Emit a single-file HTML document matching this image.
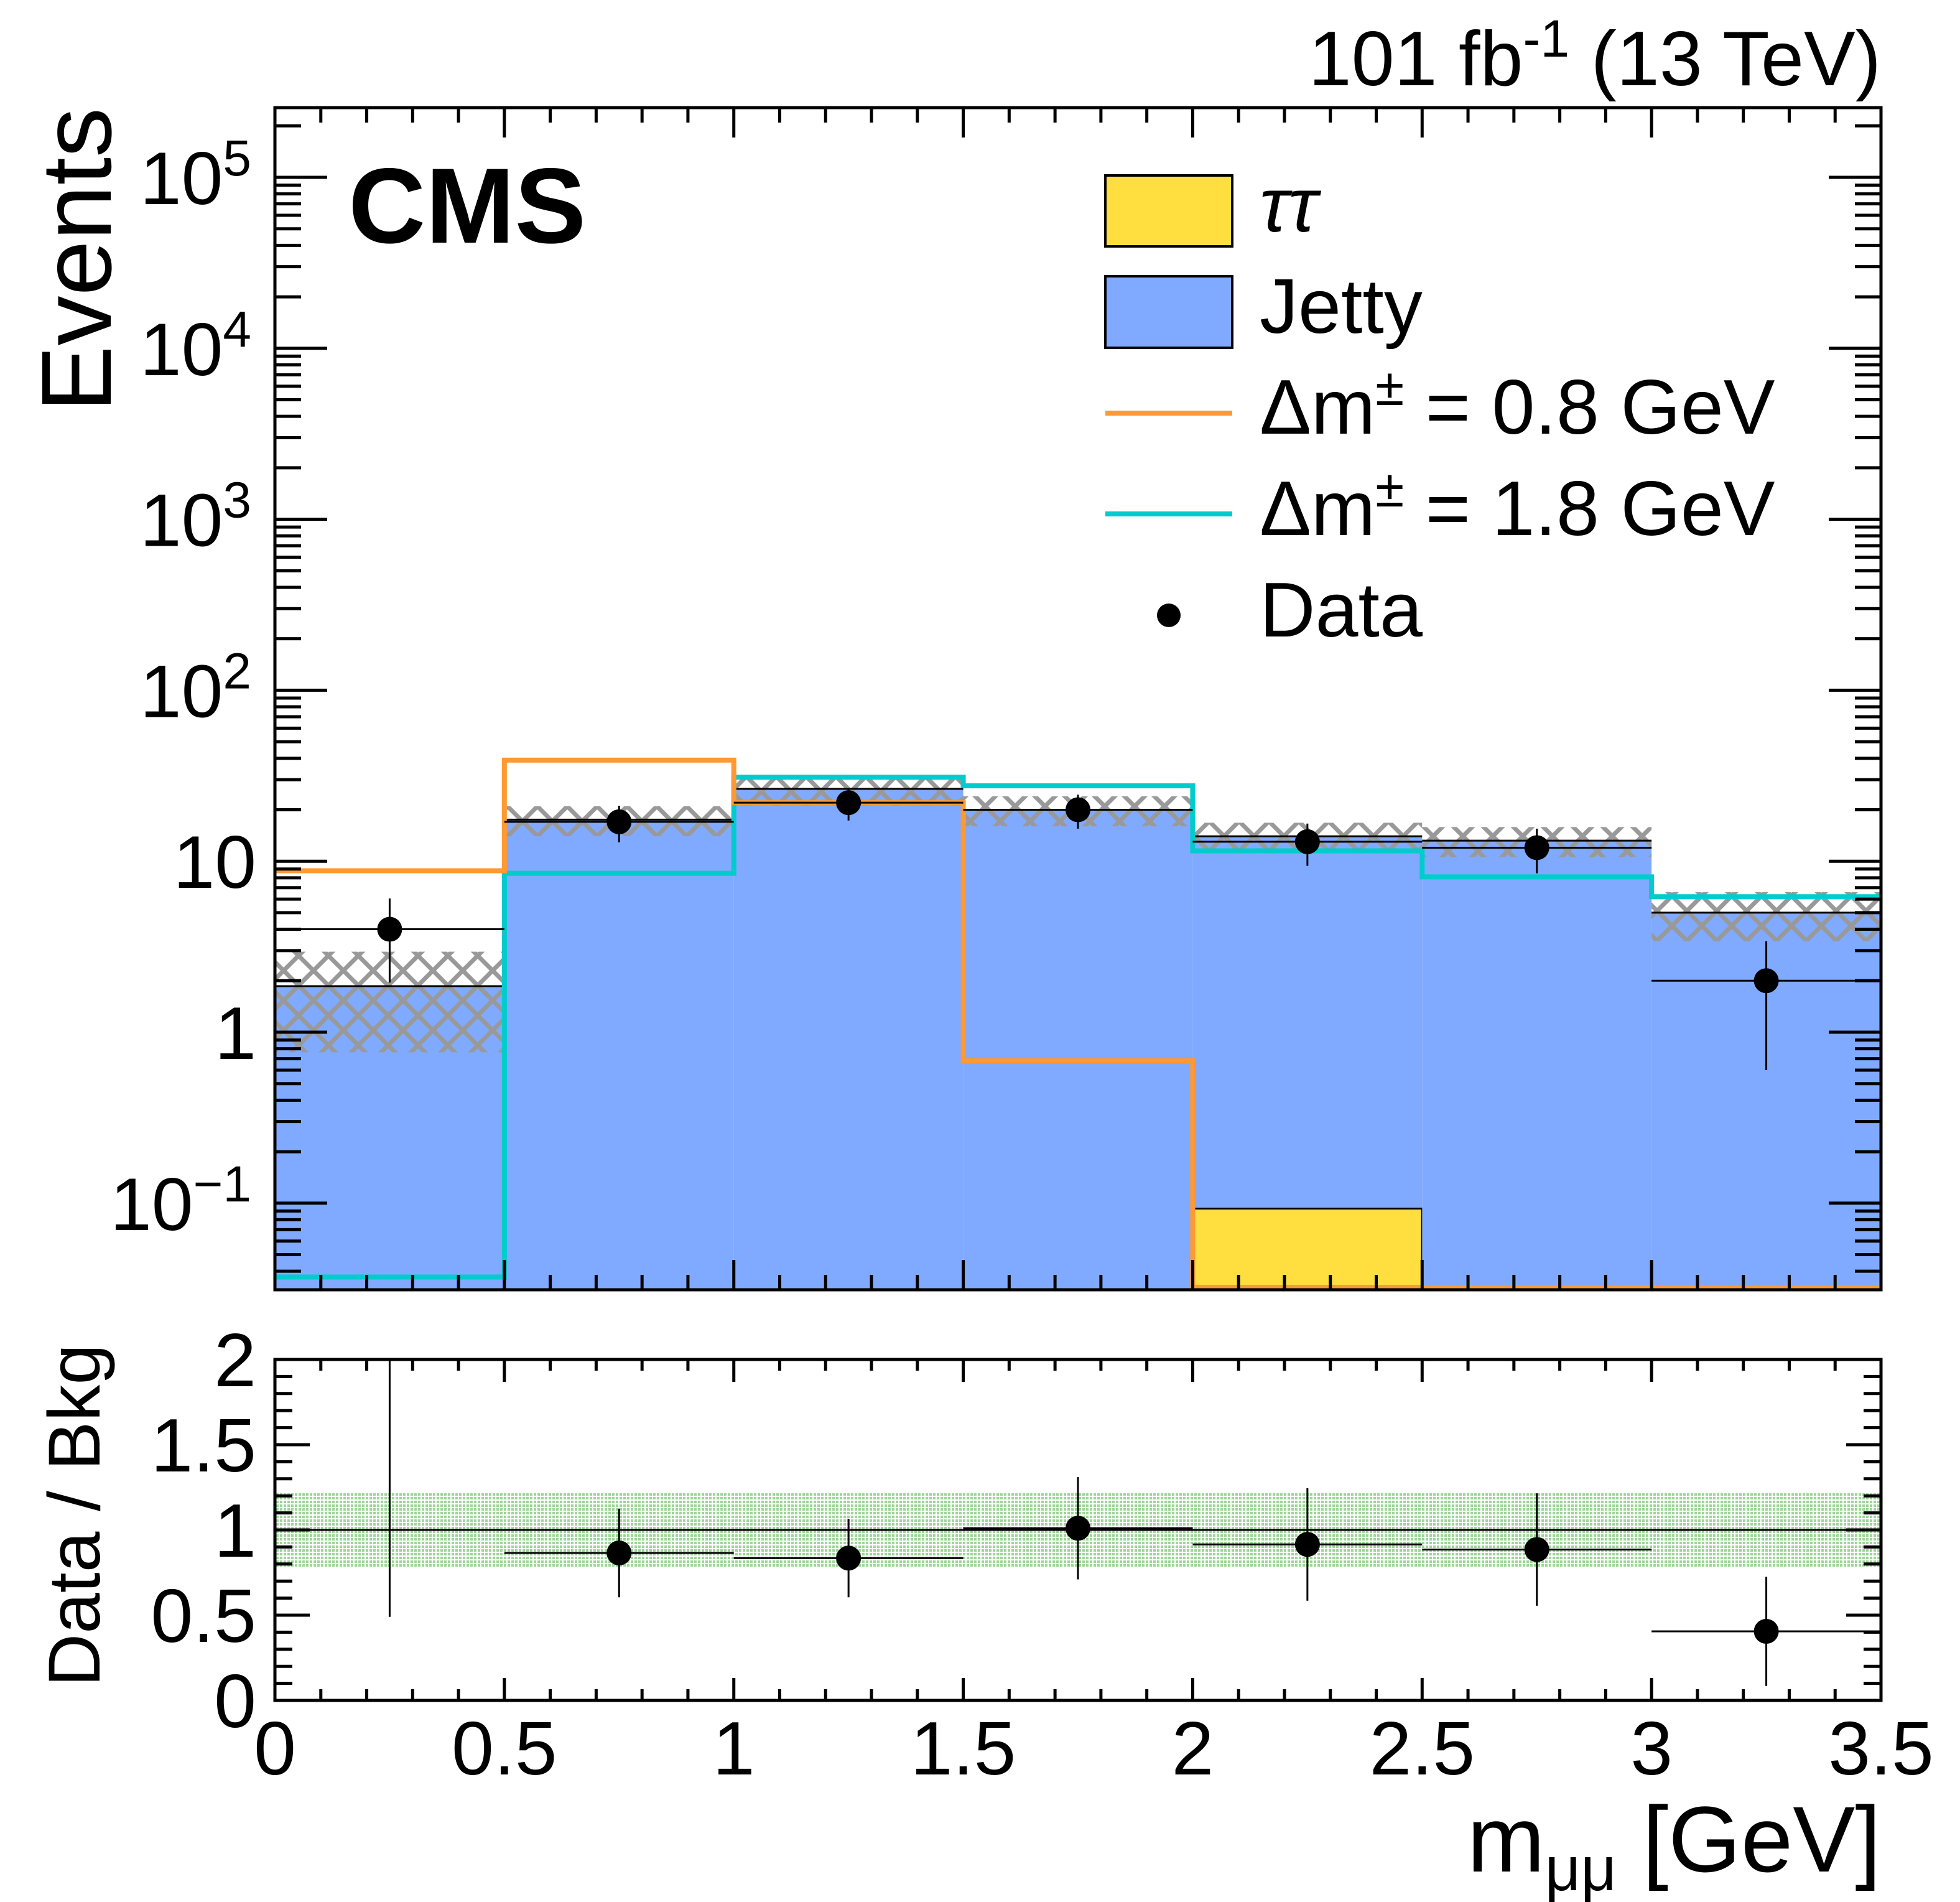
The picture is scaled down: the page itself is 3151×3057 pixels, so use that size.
<!DOCTYPE html>
<html><head><meta charset="utf-8"><style>
html,body{margin:0;padding:0;background:#fff;}
svg{display:block;}
text{font-family:"Liberation Sans",sans-serif;fill:#000;}
</style></head><body>
<svg id="chart" xmlns="http://www.w3.org/2000/svg" width="3151" height="3057" viewBox="0 0 3151 3057">
<defs>
<pattern id="hatch" patternUnits="userSpaceOnUse" width="48" height="48">
<path d="M0,0 L48,48 M48,0 L0,48" stroke="#999999" stroke-width="7"/>
</pattern>
<pattern id="dots" patternUnits="userSpaceOnUse" width="6" height="6">
<rect width="6" height="6" fill="#ffffff"/>
<rect width="4" height="4" fill="#9fd49a"/>
</pattern>
<clipPath id="clipTop"><rect x="442" y="173" width="2582" height="1900"/></clipPath>
<clipPath id="clipBot"><rect x="442" y="2185" width="2582" height="548"/></clipPath>
</defs>
<g id="top-layer" clip-path="url(#clipTop)"></g>
<g id="bot-layer" clip-path="url(#clipBot)"></g>
<g id="axes-layer"></g>

<text x="3024" y="137" text-anchor="end" font-size="124">101 fb<tspan font-size="84" dy="-46">-1</tspan><tspan dy="46"> (13 TeV)</tspan></text>
<text x="560" y="390" font-size="172" font-weight="bold">CMS</text>
<text transform="translate(178,173) rotate(-90)" text-anchor="end" font-size="160">Events</text>
<text transform="translate(160,2160) rotate(-90)" text-anchor="end" font-size="118">Data / Bkg</text>
<text x="3024" y="3008" text-anchor="end" font-size="150">m<tspan font-size="100" dy="30">μμ</tspan><tspan dy="-30"> [GeV]</tspan></text>

<g>
<rect x="1777" y="282" width="204" height="114" fill="#ffdf40" stroke="#000" stroke-width="4"/>
<text x="2025" y="372" font-size="124" font-family="Liberation Serif" font-style="italic">ττ</text>
<rect x="1777" y="444" width="204" height="115" fill="#80aaff" stroke="#000" stroke-width="4"/>
<text x="2025" y="535" font-size="124">Jetty</text>
<line x1="1777" y1="664" x2="1981" y2="664" stroke="#ff9933" stroke-width="8"/>
<text x="2025" y="697" font-size="124">Δm<tspan font-size="84" dy="-46">±</tspan><tspan dy="46"> = 0.8 GeV</tspan></text>
<line x1="1777" y1="826" x2="1981" y2="826" stroke="#00cccc" stroke-width="8"/>
<text x="2025" y="860" font-size="124">Δm<tspan font-size="84" dy="-46">±</tspan><tspan dy="46"> = 1.8 GeV</tspan></text>
<circle cx="1879" cy="989" r="19" fill="#000"/>
<text x="2025" y="1023" font-size="124">Data</text>
</g>
</svg>
<script>
const binEdges = [0, 0.5, 1.0, 1.5, 2.0, 2.5, 3.0, 3.5];
const jetty = [1.86, 17.5, 26.5, 20, 13.9, 13.2, 5.0];
const tautau = [0, 0, 0, 0, 0.093, 0, 0];
const bkgRelUnc = [0.59, 0.2, 0.2, 0.2, 0.2, 0.2, 0.32];
const sigDm08 = [8.8, 39, 22, 0.68, 0, 0, 0];
const sigDm18 = [0.037, 8.5, 31, 27.6, 11.5, 8.1, 6.2];
const dataVals = [4, 17, 22, 20, 13, 12, 2];
const dataErr = [2.05, 4.1, 4.7, 4.5, 3.6, 3.5, 1.4];
const ratioVals = [2.15, 0.865, 0.835, 1.01, 0.915, 0.885, 0.405];
const ratioErr = [1.66, 0.26, 0.23, 0.30, 0.33, 0.33, 0.32];
const ratioBand = [0.784, 1.216];
const xTickLabels = ["0", "0.5", "1", "1.5", "2", "2.5", "3", "3.5"];
const yLogExps = [-1, 0, 1, 2, 3, 4, 5];
const ratioTickLabels = ["0", "0.5", "1", "1.5", "2"];

(function () {
const NS = "http://www.w3.org/2000/svg";
const L = 442, R = 3024, T1 = 173, B1 = 2073, T2 = 2185, B2 = 2733;
const X = v => L + (v - 0) / 3.5 * (R - L);
const Y = v => { const lv = v > 0 ? Math.log10(v) : -3; return 285 + (5 - lv) * 274.8; };
const YR = v => B2 - v / 2 * (B2 - T2);
function mk(tag, attrs, parent) {
  const e = document.createElementNS(NS, tag);
  for (const k in attrs) e.setAttribute(k, attrs[k]);
  parent.appendChild(e);
  return e;
}
const topL = document.getElementById('top-layer');
const botL = document.getElementById('bot-layer');
const ax = document.getElementById('axes-layer');
const n = jetty.length;

for (let i = 0; i < n; i++) {
  const x0 = X(binEdges[i]), x1 = X(binEdges[i + 1]);
  const tot = jetty[i] + tautau[i];
  const r = mk('rect', {x: x0, y: Y(tot), width: x1 - x0, height: Math.max(0, B1 + 10 - Y(tot)), fill: '#80aaff'}, topL);
  
  
  if (tautau[i] > 0) {
    const t = mk('rect', {x: x0, y: Y(tautau[i]), width: x1 - x0, height: B1 + 10 - Y(tautau[i]), fill: '#ffdf40'}, topL);
    
    
    const tl = mk('path', {d: 'M' + x0 + ',' + B1 + ' L' + x0 + ',' + Y(tautau[i]) + ' L' + x1 + ',' + Y(tautau[i]) + ' L' + x1 + ',' + B1, fill: 'none', stroke: '#000', 'stroke-width': 3}, topL);
    
    
  }
}
for (let i = 0; i < n; i++) {
  const x0 = X(binEdges[i]), x1 = X(binEdges[i + 1]);
  const tot = jetty[i] + tautau[i];
  const yU = Y(tot * (1 + bkgRelUnc[i])), yD = Y(tot * (1 - bkgRelUnc[i]));
  const h = mk('rect', {x: x0, y: yU, width: x1 - x0, height: yD - yU, fill: 'url(#hatch)'}, topL);
  
  
}
for (let i = 0; i < n; i++) {
  const x0 = X(binEdges[i]), x1 = X(binEdges[i + 1]);
  const tot = jetty[i] + tautau[i];
  const o = mk('line', {x1: x0, y1: Y(tot), x2: x1, y2: Y(tot), stroke: '#000', 'stroke-width': 3}, topL);
  
  
}
function stepPath(vals) {
  let d = '';
  for (let i = 0; i < vals.length; i++) {
    const y = Math.min(Y(vals[i]), B1 - 4);
    d += (i === 0 ? 'M' : 'L') + X(binEdges[i]) + ',' + y + ' L' + X(binEdges[i + 1]) + ',' + y + ' ';
  }
  return d;
}
const s1 = mk('path', {d: stepPath(sigDm18), fill: 'none', stroke: '#00cccc', 'stroke-width': 8}, topL);


const s0 = mk('path', {d: stepPath(sigDm08), fill: 'none', stroke: '#ff9933', 'stroke-width': 8}, topL);


for (let i = 0; i < n; i++) {
  const xc = X((binEdges[i] + binEdges[i + 1]) / 2);
  const g = mk('g', {}, topL);
  
  
  mk('line', {x1: X(binEdges[i]), y1: Y(dataVals[i]), x2: X(binEdges[i + 1]), y2: Y(dataVals[i]), stroke: '#000', 'stroke-width': 3}, g);
  mk('line', {x1: xc, y1: Y(dataVals[i] + dataErr[i]), x2: xc, y2: Y(Math.max(dataVals[i] - dataErr[i], 1e-3)), stroke: '#000', 'stroke-width': 3}, g);
  mk('circle', {cx: xc, cy: Y(dataVals[i]), r: 20, fill: '#000'}, g);
}
const band = mk('rect', {x: L, y: YR(ratioBand[1]), width: R - L, height: YR(ratioBand[0]) - YR(ratioBand[1]), fill: 'url(#dots)'}, botL);


const ref = mk('line', {x1: L, y1: YR(1), x2: R, y2: YR(1), stroke: '#000', 'stroke-width': 3}, botL);


for (let i = 0; i < n; i++) {
  const xc = X((binEdges[i] + binEdges[i + 1]) / 2);
  const g = mk('g', {}, botL);
  
  
  mk('line', {x1: X(binEdges[i]), y1: YR(ratioVals[i]), x2: X(binEdges[i + 1]), y2: YR(ratioVals[i]), stroke: '#000', 'stroke-width': 3}, g);
  mk('line', {x1: xc, y1: YR(ratioVals[i] + ratioErr[i]), x2: xc, y2: YR(ratioVals[i] - ratioErr[i]), stroke: '#000', 'stroke-width': 3}, g);
  mk('circle', {cx: xc, cy: YR(ratioVals[i]), r: 20, fill: '#000'}, g);
}
const f1 = mk('rect', {x: L, y: T1, width: R - L, height: B1 - T1, fill: 'none', stroke: '#000', 'stroke-width': 5}, ax);


const f2 = mk('rect', {x: L, y: T2, width: R - L, height: B2 - T2, fill: 'none', stroke: '#000', 'stroke-width': 5}, ax);


const tk = mk('g', {stroke: '#000', 'stroke-width': 5}, ax);


for (let k = 0; k <= 35; k++) {
  const x = X(k / 10), major = k % 5 === 0;
  const l1 = major ? 48 : 24, l2 = major ? 36 : 18;
  mk('line', {x1: x, y1: T1, x2: x, y2: T1 + l1}, tk);
  mk('line', {x1: x, y1: B1, x2: x, y2: B1 - l1}, tk);
  mk('line', {x1: x, y1: T2, x2: x, y2: T2 + l2}, tk);
  mk('line', {x1: x, y1: B2, x2: x, y2: B2 - l2}, tk);
}
for (let e = -2; e <= 5; e++) {
  for (let m = 1; m <= 9; m++) {
    const v = m * Math.pow(10, e), y = Y(v);
    if (y < T1 || y > B1) continue;
    const len = m === 1 ? 84 : 42;
    mk('line', {x1: L, y1: y, x2: L + len, y2: y}, tk);
    mk('line', {x1: R, y1: y, x2: R - len, y2: y}, tk);
  }
}
for (let k = 0; k <= 20; k++) {
  const y = YR(k / 10), len = k % 5 === 0 ? 56 : 28;
  mk('line', {x1: L, y1: y, x2: L + len, y2: y}, tk);
  mk('line', {x1: R, y1: y, x2: R - len, y2: y}, tk);
}
xTickLabels.forEach((s, i) => {
  const t = mk('text', {x: X(i * 0.5), y: 2852, 'text-anchor': 'middle', 'font-size': 122}, ax);
  t.textContent = s;
  
  
});
yLogExps.forEach(e => {
  const y = Y(Math.pow(10, e)) + 43;
  const t = mk('text', {x: 412, y: y, 'text-anchor': 'end', 'font-size': 120}, ax);
  if (e === 0) t.textContent = '1';
  else if (e === 1) t.textContent = '10';
  else {
    t.setAttribute('x', 404);
    t.textContent = '10';
    const sp = document.createElementNS(NS, 'tspan');
    sp.setAttribute('font-size', 82);
    sp.setAttribute('dy', -46);
    sp.textContent = e < 0 ? '−' + (-e) : String(e);
    t.appendChild(sp);
  }
  
  
});
ratioTickLabels.forEach((s, i) => {
  const t = mk('text', {x: 412, y: YR(i * 0.5) + 43, 'text-anchor': 'end', 'font-size': 122}, ax);
  t.textContent = s;
  
  
});
})();
</script>
</body></html>
